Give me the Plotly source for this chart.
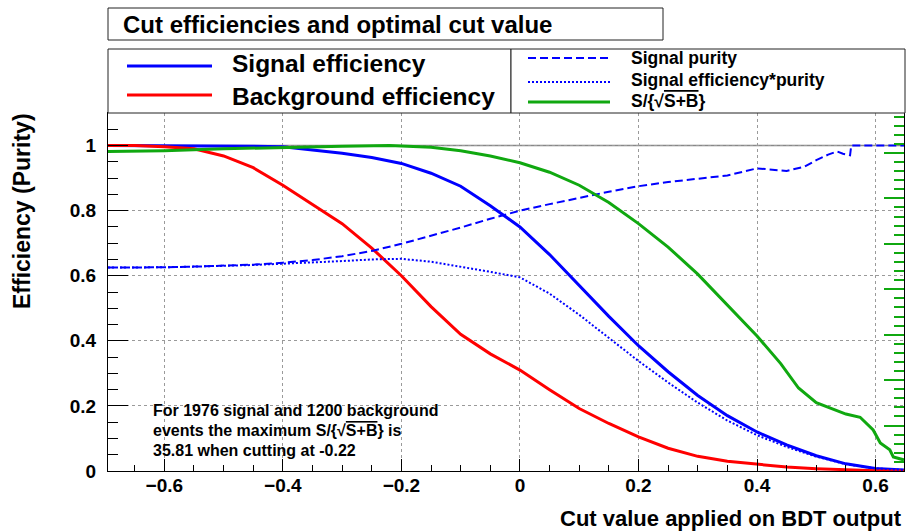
import plotly.graph_objects as go

# ---------------- data ----------------
cut = [-0.695, -0.65, -0.6, -0.55, -0.5, -0.45, -0.4, -0.35, -0.3, -0.25, -0.2, -0.15,
       -0.1, -0.05, 0.0, 0.05, 0.1, 0.15, 0.2, 0.25, 0.3, 0.35, 0.4, 0.45, 0.5, 0.55,
       0.6, 0.648]
sig_eff = [1.0, 1.0, 1.0, 1.0, 1.0, 0.998, 0.996, 0.987, 0.976, 0.963, 0.945, 0.915,
           0.875, 0.815, 0.75, 0.665, 0.57, 0.475, 0.385, 0.305, 0.232, 0.17, 0.12,
           0.08, 0.047, 0.022, 0.008, 0.003]
bkg_eff = [1.0, 1.0, 0.996, 0.99, 0.968, 0.932, 0.878, 0.82, 0.76, 0.685, 0.6, 0.505,
           0.42, 0.36, 0.31, 0.25, 0.192, 0.146, 0.105, 0.07, 0.045, 0.03, 0.02, 0.012,
           0.007, 0.003, 0.001, 0.0]
eff_pur = [0.625, 0.625, 0.626, 0.628, 0.63, 0.633, 0.637, 0.64, 0.645, 0.65, 0.652,
           0.643, 0.628, 0.612, 0.595, 0.545, 0.48, 0.41, 0.338, 0.272, 0.21, 0.155,
           0.11, 0.074, 0.044, 0.021, 0.008, 0.003]

pur_cut = [-0.695, -0.65, -0.6, -0.55, -0.5, -0.45, -0.4, -0.35, -0.3, -0.25, -0.2,
           -0.15, -0.1, -0.05, 0.0, 0.05, 0.1, 0.15, 0.2, 0.25, 0.3, 0.35, 0.4, 0.45,
           0.48, 0.5, 0.52, 0.535, 0.545, 0.557, 0.559, 0.6, 0.648]
purity = [0.625, 0.625, 0.626, 0.628, 0.63, 0.634, 0.64, 0.648, 0.66, 0.676, 0.698,
          0.722, 0.748, 0.775, 0.8, 0.82, 0.84, 0.858, 0.875, 0.888, 0.898, 0.908,
          0.93, 0.922, 0.935, 0.955, 0.972, 0.982, 0.975, 0.97, 1.0, 1.0, 1.0]

sb_cut = [-0.695, -0.6, -0.5, -0.4, -0.3, -0.22, -0.15, -0.1, -0.05, 0.0, 0.05, 0.1,
          0.15, 0.2, 0.25, 0.3, 0.35, 0.4, 0.44, 0.47, 0.5, 0.55, 0.574, 0.596, 0.608,
          0.624, 0.63, 0.648]
sb_norm = [0.982, 0.984, 0.99, 0.995, 0.998, 1.0, 0.995, 0.984, 0.968, 0.947, 0.918,
           0.878, 0.825, 0.76, 0.688, 0.605, 0.51, 0.415, 0.33, 0.255, 0.21, 0.175,
           0.165, 0.126, 0.086, 0.065, 0.043, 0.034]

title_text = "Cut efficiencies and optimal cut value"
info_lines = ["For 1976 signal and 1200 background",
              "events the maximum S/{√<span style='text-decoration:overline'>S+B</span>} is",
              "35.81 when cutting at -0.22"]
sb_max = 35.81

# ---------------- styling ----------------
FONT = "Liberation Sans, Arial, Helvetica, sans-serif"
BLUE = "#0000ff"
RED = "#ff0000"
GREEN = "#10a810"

W, H = 911, 531
L, R, T, B = 108, 7, 113, 60
PW, PH = W - L - R, H - T - B


def px(x):
    return (x - L) / PW


def py(y):
    return (H - B - y) / PH


fig = go.Figure()
fig.add_trace(go.Scatter(x=cut, y=sig_eff, mode="lines", line=dict(color=BLUE, width=3),
                         name="Signal efficiency"))
fig.add_trace(go.Scatter(x=cut, y=bkg_eff, mode="lines", line=dict(color=RED, width=3),
                         name="Background efficiency"))
fig.add_trace(go.Scatter(x=pur_cut, y=purity, mode="lines",
                         line=dict(color=BLUE, width=2, dash="8px,4px"), name="Signal purity"))
fig.add_trace(go.Scatter(x=cut, y=eff_pur, mode="lines",
                         line=dict(color=BLUE, width=2, dash="2px,2px"),
                         name="Signal efficiency*purity"))
fig.add_trace(go.Scatter(x=sb_cut, y=sb_norm, mode="lines", line=dict(color=GREEN, width=3),
                         name="S/sqrt(S+B)"))
fig.add_trace(go.Scatter(x=[None], y=[None], yaxis="y2", showlegend=False))

tickfont = dict(family=FONT, size=19, color="black", weight="bold")

fig.update_layout(
    width=W, height=H, margin=dict(l=L, r=R, t=T, b=B, autoexpand=False),
    paper_bgcolor="white", plot_bgcolor="white", showlegend=False,
    font=dict(family=FONT, color="black"),
    xaxis=dict(range=[-0.695, 0.648], tick0=0, dtick=0.2, ticks="inside", ticklen=12,
               tickwidth=1, tickcolor="black", showline=True, linecolor="black",
               linewidth=1, mirror=True, showgrid=True, gridcolor="#9a9a9a",
               griddash="dot", gridwidth=1, zeroline=False, tickfont=tickfont,
               ticklabelstandoff=-3,
               minor=dict(dtick=0.05, tick0=0, ticks="inside", ticklen=6,
                          tickcolor="black", showgrid=False)),
    yaxis=dict(range=[0, 1.1], tick0=0, dtick=0.2, ticks="inside", ticklen=20,
               tickwidth=1, tickcolor="black", showline=True, linecolor="black",
               linewidth=1, mirror=True, showgrid=True, gridcolor="#9a9a9a",
               griddash="dot", gridwidth=1, zeroline=False, tickfont=tickfont,
               ticklabelstandoff=7,
               minor=dict(dtick=0.05, tick0=0, ticks="inside", ticklen=10,
                          tickcolor="black", showgrid=False)),
    yaxis2=dict(range=[0, sb_max * 1.1], overlaying="y", side="right", tick0=0, dtick=5,
                ticks="inside", ticklen=20, tickwidth=2, tickcolor=GREEN,
                showticklabels=False, showgrid=False, zeroline=False, showline=False,
                minor=dict(dtick=1, tick0=0, ticks="inside", ticklen=10, tickwidth=2,
                           tickcolor=GREEN, showgrid=False)),
)

shapes = []
# line at efficiency = 1
shapes.append(dict(type="line", xref="paper", yref="y", x0=0, x1=1, y0=1, y1=1,
                   line=dict(color="#888888", width=1.5), layer="below"))
# title box and legend boxes
shapes.append(dict(type="rect", xref="paper", yref="paper", x0=px(108), x1=px(663),
                   y0=py(40), y1=py(8), line=dict(color="#222", width=1),
                   fillcolor="white"))
shapes.append(dict(type="rect", xref="paper", yref="paper", x0=px(108), x1=px(511),
                   y0=py(113), y1=py(49), line=dict(color="#222", width=1),
                   fillcolor="white"))
shapes.append(dict(type="rect", xref="paper", yref="paper", x0=px(511), x1=px(905),
                   y0=py(113), y1=py(49), line=dict(color="#222", width=1),
                   fillcolor="white"))
# legend samples
leg_left = [("Signal efficiency", dict(color=BLUE, width=3), 66, 64),
            ("Background efficiency", dict(color=RED, width=3), 95, 96)]
leg_right = [("Signal purity", dict(color=BLUE, width=2, dash="8px,4px"), 58, 58),
             ("Signal efficiency*purity", dict(color=BLUE, width=2, dash="2px,2px"), 82, 80),
             ("S/{√<span style='text-decoration:overline'>S+B</span>}",
              dict(color=GREEN, width=3), 102, 101)]
annotations = []
for txt, ln, ly, ty in leg_left:
    shapes.append(dict(type="line", xref="paper", yref="paper", x0=px(127), x1=px(212),
                       y0=py(ly), y1=py(ly), line=ln))
    annotations.append(dict(text=txt, xref="paper", yref="paper", x=px(230), y=py(ty),
                            xanchor="left", yanchor="middle", showarrow=False,
                            font=dict(family=FONT, size=24.5, color="black",
                                      weight="bold")))
for txt, ln, ly, ty in leg_right:
    shapes.append(dict(type="line", xref="paper", yref="paper", x0=px(528), x1=px(610),
                       y0=py(ly), y1=py(ly), line=ln))
    annotations.append(dict(text=txt, xref="paper", yref="paper", x=px(629), y=py(ty),
                            xanchor="left", yanchor="middle", showarrow=False,
                            font=dict(family=FONT, size=17.5, color="black",
                                      weight="bold")))

annotations.append(dict(text=title_text, xref="paper", yref="paper", x=px(121), y=py(24),
                        xanchor="left", yanchor="middle", showarrow=False,
                        font=dict(family=FONT, size=24, color="black", weight="bold")))
for i, t in enumerate(info_lines):
    annotations.append(dict(text=t, xref="paper", yref="paper", x=px(151), y=py(410 + 20 * i),
                            xanchor="left", yanchor="middle", showarrow=False,
                            font=dict(family=FONT, size=16, color="black", weight="bold")))
annotations.append(dict(text="Efficiency (Purity)", xref="paper", yref="paper", x=px(22),
                        y=py(211), xanchor="center", yanchor="middle", textangle=-90,
                        showarrow=False,
                        font=dict(family=FONT, size=23, color="black", weight="bold")))
annotations.append(dict(text="Cut value applied on BDT output", xref="paper", yref="paper",
                        x=px(904), y=py(518), xanchor="right", yanchor="middle",
                        showarrow=False,
                        font=dict(family=FONT, size=22, color="black", weight="bold")))

fig.update_layout(shapes=shapes, annotations=annotations)
fig.write_html("out.html")
